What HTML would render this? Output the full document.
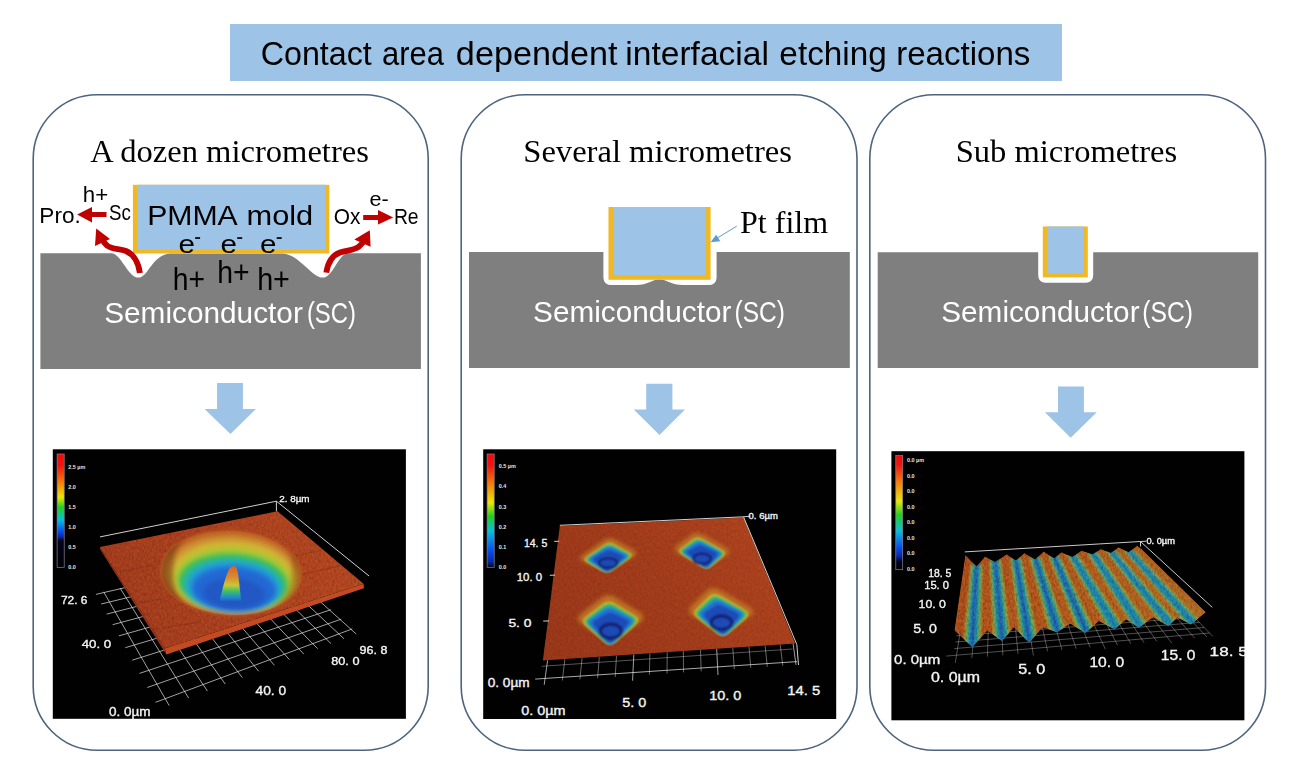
<!DOCTYPE html>
<html><head><meta charset="utf-8"><title>Contact area dependent interfacial etching reactions</title>
<style>html,body{margin:0;padding:0;background:#fff;}svg{display:block;}</style></head><body>
<svg width="1299" height="773" viewBox="0 0 1299 773">
<defs>
<filter id="b1" x="-20%" y="-20%" width="140%" height="140%"><feGaussianBlur stdDeviation="1"/></filter>
<filter id="b2" x="-20%" y="-20%" width="140%" height="140%"><feGaussianBlur stdDeviation="2"/></filter>
<filter id="b3" x="-20%" y="-20%" width="140%" height="140%"><feGaussianBlur stdDeviation="3"/></filter>
<filter id="b05" x="-20%" y="-20%" width="140%" height="140%"><feGaussianBlur stdDeviation="0.5"/></filter>
<linearGradient id="cbar1" x1="0" y1="0" x2="0" y2="1"><stop offset="0" stop-color="#f80808"/><stop offset="0.1" stop-color="#f01410"/><stop offset="0.24" stop-color="#f87408"/><stop offset="0.38" stop-color="#e8e808"/><stop offset="0.47" stop-color="#20d020"/><stop offset="0.58" stop-color="#08c0e0"/><stop offset="0.68" stop-color="#0850f0"/><stop offset="0.73" stop-color="#0828a8"/><stop offset="0.765" stop-color="#04041c"/><stop offset="1" stop-color="#000004"/></linearGradient>
<linearGradient id="cbar2" x1="0" y1="0" x2="0" y2="1"><stop offset="0" stop-color="#f80808"/><stop offset="0.1" stop-color="#f01410"/><stop offset="0.25" stop-color="#f87408"/><stop offset="0.43" stop-color="#e8e808"/><stop offset="0.55" stop-color="#20d020"/><stop offset="0.68" stop-color="#08c0e0"/><stop offset="0.85" stop-color="#0850f0"/><stop offset="0.95" stop-color="#0828a8"/><stop offset="1" stop-color="#040418"/></linearGradient>
<linearGradient id="cbar3" x1="0" y1="0" x2="0" y2="1"><stop offset="0" stop-color="#f80808"/><stop offset="0.08" stop-color="#f01410"/><stop offset="0.22" stop-color="#f87408"/><stop offset="0.4" stop-color="#e8e808"/><stop offset="0.52" stop-color="#20d020"/><stop offset="0.66" stop-color="#08c0e0"/><stop offset="0.8" stop-color="#0850f0"/><stop offset="0.88" stop-color="#0828a8"/><stop offset="0.93" stop-color="#04041c"/><stop offset="1" stop-color="#000004"/></linearGradient>
<filter id="grain" x="0" y="0" width="100%" height="100%"><feTurbulence type="fractalNoise" baseFrequency="0.55 0.3" numOctaves="2" seed="7" result="n"/><feColorMatrix in="n" type="matrix" values="0 0 0 0 0  0 0 0 0 0  0 0 0 0 0  1.8 0 0 0 -0.72"/></filter>
<filter id="grainw" x="0" y="0" width="100%" height="100%"><feTurbulence type="fractalNoise" baseFrequency="0.5 0.3" numOctaves="2" seed="23" result="n"/><feColorMatrix in="n" type="matrix" values="0 0 0 0 1  0 0 0 0 0.85  0 0 0 0 0.5  1.8 0 0 0 -0.78"/></filter>
</defs>
<rect width="1299" height="773" fill="#fff"/>
<g opacity="0.999">
<rect x="230" y="24" width="832" height="57" fill="#9DC3E6"/>
<text x="260.72" y="64.7" font-family="Liberation Sans, sans-serif" font-size="33" fill="#000" textLength="111.04" lengthAdjust="spacingAndGlyphs" >Contact</text>
<text x="382.06" y="64.7" font-family="Liberation Sans, sans-serif" font-size="33" fill="#000" textLength="61.93" lengthAdjust="spacingAndGlyphs" >area</text>
<text x="455.86" y="64.7" font-family="Liberation Sans, sans-serif" font-size="33" fill="#000" textLength="161.71" lengthAdjust="spacingAndGlyphs" >dependent</text>
<text x="625.27" y="64.7" font-family="Liberation Sans, sans-serif" font-size="33" fill="#000" textLength="143.69" lengthAdjust="spacingAndGlyphs" >interfacial</text>
<text x="779.39" y="64.7" font-family="Liberation Sans, sans-serif" font-size="33" fill="#000" textLength="107.37" lengthAdjust="spacingAndGlyphs" >etching</text>
<text x="896.20" y="64.7" font-family="Liberation Sans, sans-serif" font-size="33" fill="#000" textLength="134.21" lengthAdjust="spacingAndGlyphs" >reactions</text>
<rect x="33.2" y="94.8" width="395.0" height="655.4" rx="64" ry="64" fill="#fff" stroke="#4E647E" stroke-width="1.6"/>
<rect x="461.2" y="94.8" width="395.8" height="655.4" rx="64" ry="64" fill="#fff" stroke="#4E647E" stroke-width="1.6"/>
<rect x="869.8" y="94.8" width="395.7" height="655.4" rx="64" ry="64" fill="#fff" stroke="#4E647E" stroke-width="1.6"/>
<text x="90.30" y="161.7" font-family="Liberation Serif, serif" font-size="32.4" fill="#000" textLength="278.60" lengthAdjust="spacingAndGlyphs" >A dozen micrometres</text>
<text x="523.29" y="161.6" font-family="Liberation Serif, serif" font-size="32.4" fill="#000" textLength="268.62" lengthAdjust="spacingAndGlyphs" >Several micrometres</text>
<text x="955.69" y="161.6" font-family="Liberation Serif, serif" font-size="32.4" fill="#000" textLength="221.52" lengthAdjust="spacingAndGlyphs" >Sub micrometres</text>
<path d="M40.4 253.2 L112 253.2 C122 255 128 277.6 138.4 277.6 C148 277.6 152 255 170 253.4 L283 253.4 C300 255 312 277.6 322.6 277.6 C333 277.6 338 254 348 253.2 L420.9 253.2 L420.9 369 L40.4 369 Z" fill="#7F7F7F"/>
<rect x="132.9" y="184.8" width="196.4" height="68.7" fill="#F0B823"/>
<rect x="137.0" y="184.8" width="188.4" height="65.2" fill="#9DC3E6"/>
<path d="M469 252.1 L603.4 252.1 L603.4 277 Q603.4 285.1 611.5 285.1 L636 285.1 C648 285.1 652 279.6 659.3 279.6 C667 279.6 671 285.1 683 285.1 L708.5 285.1 Q716.6 285.1 716.6 277 L716.6 252.1 L849.8 252.1 L849.8 368 L469 368 Z" fill="#7F7F7F"/>
<rect x="608.5" y="207" width="102.1" height="72.8" fill="#F0B823"/>
<rect x="613.6" y="207" width="91.9" height="68.2" fill="#9DC3E6"/>
<path d="M877.7 252.3 L1038.2 252.3 L1038.2 274.8 Q1038.2 282.8 1046.2 282.8 L1085.2 282.8 Q1093.2 282.8 1093.2 274.8 L1093.2 252.3 L1258.2 252.3 L1258.2 368 L877.7 368 Z" fill="#7F7F7F"/>
<rect x="1042.8" y="226.5" width="45" height="50.9" fill="#F0B823"/>
<rect x="1047" y="226.5" width="36.9" height="47.1" fill="#9DC3E6"/>
<text x="147.16" y="224.6" font-family="Liberation Sans, sans-serif" font-size="27" fill="#000" textLength="90.55" lengthAdjust="spacingAndGlyphs" >PMMA</text>
<text x="246.56" y="224.6" font-family="Liberation Sans, sans-serif" font-size="27" fill="#000" textLength="66.70" lengthAdjust="spacingAndGlyphs" >mold</text>
<text x="39.37" y="223.0" font-family="Liberation Sans, sans-serif" font-size="22" fill="#000" textLength="41.37" lengthAdjust="spacingAndGlyphs" >Pro.</text>
<text x="109.05" y="220.4" font-family="Liberation Sans, sans-serif" font-size="22" fill="#000" textLength="21.85" lengthAdjust="spacingAndGlyphs" >Sc</text>
<text x="82.79" y="201.6" font-family="Liberation Sans, sans-serif" font-size="22" fill="#000" textLength="25.37" lengthAdjust="spacingAndGlyphs" >h+</text>
<text x="333.75" y="223.5" font-family="Liberation Sans, sans-serif" font-size="22" fill="#000" textLength="26.65" lengthAdjust="spacingAndGlyphs" >Ox</text>
<text x="393.92" y="223.5" font-family="Liberation Sans, sans-serif" font-size="22" fill="#000" textLength="24.68" lengthAdjust="spacingAndGlyphs" >Re</text>
<text x="369.60" y="206.1" font-family="Liberation Sans, sans-serif" font-size="20" fill="#000" textLength="19.21" lengthAdjust="spacingAndGlyphs" >e-</text>
<text x="178.48" y="253.4" font-family="Liberation Sans, sans-serif" font-size="26.5" fill="#000" textLength="16.44" lengthAdjust="spacingAndGlyphs" >e</text>
<rect x="195.1" y="237.2" width="5" height="1.7" fill="#000"/>
<text x="220.58" y="253.4" font-family="Liberation Sans, sans-serif" font-size="26.5" fill="#000" textLength="16.44" lengthAdjust="spacingAndGlyphs" >e</text>
<rect x="237.2" y="237.2" width="5" height="1.7" fill="#000"/>
<text x="260.08" y="253.4" font-family="Liberation Sans, sans-serif" font-size="26.5" fill="#000" textLength="16.44" lengthAdjust="spacingAndGlyphs" >e</text>
<rect x="276.7" y="237.2" width="5" height="1.7" fill="#000"/>
<text x="172.78" y="289.7" font-family="Liberation Sans, sans-serif" font-size="31" fill="#000" textLength="32.23" lengthAdjust="spacingAndGlyphs" >h+</text>
<text x="217.27" y="282.6" font-family="Liberation Sans, sans-serif" font-size="31" fill="#000" textLength="32.34" lengthAdjust="spacingAndGlyphs" >h+</text>
<text x="257.15" y="289.7" font-family="Liberation Sans, sans-serif" font-size="31" fill="#000" textLength="32.78" lengthAdjust="spacingAndGlyphs" >h+</text>
<text x="104.17" y="323.0" font-family="Liberation Sans, sans-serif" font-size="29" fill="#fff" textLength="198.68" lengthAdjust="spacingAndGlyphs" >Semiconductor</text>
<text x="306.88" y="323.0" font-family="Liberation Sans, sans-serif" font-size="29" fill="#fff" textLength="49.09" lengthAdjust="spacingAndGlyphs" >(SC)</text>
<text x="533.07" y="321.6" font-family="Liberation Sans, sans-serif" font-size="29" fill="#fff" textLength="198.27" lengthAdjust="spacingAndGlyphs" >Semiconductor</text>
<text x="734.56" y="321.6" font-family="Liberation Sans, sans-serif" font-size="29" fill="#fff" textLength="50.34" lengthAdjust="spacingAndGlyphs" >(SC)</text>
<text x="941.27" y="321.6" font-family="Liberation Sans, sans-serif" font-size="29" fill="#fff" textLength="198.27" lengthAdjust="spacingAndGlyphs" >Semiconductor</text>
<text x="1142.35" y="321.6" font-family="Liberation Sans, sans-serif" font-size="29" fill="#fff" textLength="50.76" lengthAdjust="spacingAndGlyphs" >(SC)</text>
<path d="M106.5 212.1 L92 212.1 L92 207 L77.1 214.6 L92 222.5 L92 217.1 L106.5 217.1 Z" fill="#C00000"/>
<path d="M363.2 214.9 L378 214.9 L378 210 L393.2 217.4 L378 224.6 L378 219.9 L363.2 219.9 Z" fill="#C00000"/>
<path d="M139.9 273 C138.5 262 133 254 126 251 C119 248.5 112 249.5 107 245.5 C104.5 243.5 103.2 241.5 102.6 239.8" fill="none" stroke="#C00000" stroke-width="5.8"/>
<path d="M96.2 228.6 L110 239 L95 246 Z" fill="#C00000"/>
<path d="M326.3 272.6 C328 262 333 255 340 252.5 C347 250 354 250.5 359 246.5 C361.5 244.5 363 242.5 363.6 241" fill="none" stroke="#C00000" stroke-width="5.8"/>
<path d="M369.8 230.3 L354.3 239.6 L370.6 246.8 Z" fill="#C00000"/>
<text x="740.10" y="232.7" font-family="Liberation Serif, serif" font-size="31" fill="#000" textLength="87.92" lengthAdjust="spacingAndGlyphs" >Pt film</text>
<line x1="736.7" y1="226.2" x2="716" y2="238.8" stroke="#5B9BD5" stroke-width="1"/>
<path d="M710.6 242.2 L716.2 234.8 L720.3 241.2 Z" fill="#5B9BD5"/>
<path d="M217.1 383.1 L242.9 383.1 L242.9 409.1 L255.9 409.1 L230.4 434 L204.6 409.1 L217.1 409.1 Z" fill="#9DC3E6"/>
<path d="M646.2 383.8 L672.4 383.8 L672.4 409.6 L685 409.6 L659.5 435 L633.8 409.6 L646.2 409.6 Z" fill="#9DC3E6"/>
<path d="M1058 386.6 L1083.9 386.6 L1083.9 412.2 L1096.8 412.2 L1070.7 437.8 L1044.8 412.2 L1058 412.2 Z" fill="#9DC3E6"/>
<clipPath id="c1"><rect x="52.8" y="449.3" width="353.1" height="269.5"/></clipPath>
<g clip-path="url(#c1)">
<rect x="52.8" y="449.3" width="353.1" height="269.5" fill="#000"/>
<rect x="57.1" y="454" width="7.1" height="113.3" fill="url(#cbar1)" stroke="#8c8494" stroke-width="0.7"/>
<text x="68.3" y="468.8" font-family="Liberation Sans, sans-serif" font-weight="bold" font-size="5.4" fill="#e8e8e8">2.5 µm</text>
<text x="68.3" y="489.2" font-family="Liberation Sans, sans-serif" font-weight="bold" font-size="5.4" fill="#e8e8e8">2.0</text>
<text x="68.3" y="508.8" font-family="Liberation Sans, sans-serif" font-weight="bold" font-size="5.4" fill="#e8e8e8">1.5</text>
<text x="68.3" y="529.2" font-family="Liberation Sans, sans-serif" font-weight="bold" font-size="5.4" fill="#e8e8e8">1.0</text>
<text x="68.3" y="549.3" font-family="Liberation Sans, sans-serif" font-weight="bold" font-size="5.4" fill="#e8e8e8">0.5</text>
<text x="68.3" y="569.2" font-family="Liberation Sans, sans-serif" font-weight="bold" font-size="5.4" fill="#e8e8e8">0.0</text>
<g stroke="#e0e0e0" stroke-width="0.85" stroke-opacity="0.85">
<line x1="103.6" y1="591.8" x2="169.2" y2="705.6"/>
<line x1="120.0" y1="588.0" x2="188.7" y2="698.1"/>
<line x1="135.7" y1="584.4" x2="207.4" y2="691.0"/>
<line x1="151.0" y1="580.9" x2="225.3" y2="684.1"/>
<line x1="165.7" y1="577.5" x2="242.3" y2="677.6"/>
<line x1="179.9" y1="574.2" x2="258.7" y2="671.3"/>
<line x1="193.7" y1="571.1" x2="274.4" y2="665.3"/>
<line x1="207.0" y1="568.0" x2="289.4" y2="659.6"/>
<line x1="219.8" y1="565.0" x2="303.8" y2="654.1"/>
<line x1="232.3" y1="562.2" x2="317.7" y2="648.7"/>
<line x1="244.4" y1="559.4" x2="331.0" y2="643.6"/>
<line x1="256.1" y1="556.7" x2="343.9" y2="638.7"/>
<line x1="267.5" y1="554.1" x2="356.2" y2="634.0"/>
<line x1="155.5" y1="702.3" x2="352.3" y2="628.9"/>
<line x1="147.3" y1="687.5" x2="341.3" y2="619.1"/>
<line x1="139.5" y1="673.4" x2="330.9" y2="609.7"/>
<line x1="132.2" y1="660.2" x2="320.9" y2="600.7"/>
<line x1="125.3" y1="647.7" x2="311.3" y2="592.1"/>
<line x1="118.8" y1="635.9" x2="302.2" y2="583.9"/>
<line x1="112.6" y1="624.7" x2="293.4" y2="576.1"/>
<line x1="106.7" y1="614.1" x2="285.0" y2="568.5"/>
<line x1="101.2" y1="604.0" x2="276.9" y2="561.3"/>
<line x1="95.9" y1="594.4" x2="269.2" y2="554.3"/>
</g>
<line x1="100.0" y1="536.9" x2="276.4" y2="501.2" stroke="#e8e8e8" stroke-width="0.9" stroke-opacity="1" />
<line x1="276.4" y1="501.2" x2="369.1" y2="576.0" stroke="#e8e8e8" stroke-width="0.9" stroke-opacity="1" />
<line x1="276.4" y1="501.2" x2="276.4" y2="511.5" stroke="#e8e8e8" stroke-width="0.9" stroke-opacity="1" />
<linearGradient id="s1g" gradientUnits="userSpaceOnUse" x1="120" y1="620" x2="330" y2="520"><stop offset="0" stop-color="#a63c1c"/><stop offset="0.5" stop-color="#ae411e"/><stop offset="1" stop-color="#b64720"/></linearGradient>
<polygon points="164.8,648.5 363.5,583.8 364.0,588.3 166.3,654.5" fill="#c44a22" />
<polygon points="100.0,546.9 164.8,648.5 166.3,654.5 100.0,548.9" fill="#96341a" />
<polygon points="100.0,546.9 277.5,511.2 363.5,583.8 164.8,648.5" fill="url(#s1g)" />
<clipPath id="s1c"><polygon points="100.0,546.9 277.5,511.2 363.5,583.8 164.8,648.5" fill="#000" /></clipPath>
<g clip-path="url(#s1c)" stroke="#842c12" stroke-width="1.2" stroke-opacity="0.5" filter="url(#b05)">
<line x1="118" y1="572" x2="168" y2="562"/><line x1="135" y1="604" x2="185" y2="594"/><line x1="296" y1="556" x2="340" y2="546"/><line x1="300" y1="575" x2="352" y2="563"/><line x1="150" y1="630" x2="200" y2="622"/>
</g>
<g clip-path="url(#s1c)"><rect x="98" y="508" width="270" height="146" filter="url(#grain)" opacity="0.2"/><rect x="98" y="508" width="270" height="146" filter="url(#grainw)" opacity="0.1"/></g>
<clipPath id="cr1"><ellipse cx="231" cy="573" rx="70" ry="42" transform="rotate(3 231 573)"/></clipPath>
<g filter="url(#b1)">
<ellipse cx="231" cy="573" rx="71" ry="43" transform="rotate(3 231 573)" fill="#b85a24"/>
</g>
<g clip-path="url(#cr1)"><g filter="url(#b2)">
<ellipse cx="231.2" cy="573.1" rx="69.8" ry="41.9" transform="rotate(3 231.2 573.1)" fill="#c06828"/>
<ellipse cx="232.0" cy="575.3" rx="66.0" ry="39.3" transform="rotate(3 232.0 575.3)" fill="#d09030"/>
<ellipse cx="233.0" cy="577.9" rx="62.0" ry="36.4" transform="rotate(3 233.0 577.9)" fill="#ccb830"/>
<ellipse cx="233.2" cy="581.1" rx="58.2" ry="32.6" transform="rotate(3 233.2 581.1)" fill="#a0c838"/>
<ellipse cx="233.0" cy="583.2" rx="55.0" ry="30.2" transform="rotate(3 233.0 583.2)" fill="#40be48"/>
<ellipse cx="233.2" cy="585.2" rx="51.2" ry="27.8" transform="rotate(3 233.2 585.2)" fill="#28b890"/>
<ellipse cx="233.5" cy="586.5" rx="47.5" ry="26.1" transform="rotate(3 233.5 586.5)" fill="#20a8c8"/>
<ellipse cx="233.8" cy="588.1" rx="44.2" ry="24.1" transform="rotate(3 233.8 588.1)" fill="#2088d8"/>
<ellipse cx="234.0" cy="589.8" rx="41.0" ry="21.8" transform="rotate(3 234.0 589.8)" fill="#2468d4"/>
<ellipse cx="234.0" cy="593.5" rx="31.0" ry="15.5" transform="rotate(3 234.0 593.5)" fill="#2458c4"/>
</g></g>
<g clip-path="url(#cr1)"><g filter="url(#b2)" opacity="0.45">
<path d="M161 575 C161 555 170 540 188 533 C176 545 172 560 173 578 C174 592 180 602 190 609 C172 603 161 592 161 575 Z" fill="#5a3008"/>
<path d="M301 575 C301 560 296 548 286 540 C292 552 293 566 291 580 C289 592 282 602 272 609 C290 603 301 592 301 575 Z" fill="#5a3008" opacity="0.6"/>
</g></g>
<linearGradient id="pk1" x1="0" y1="0" x2="0" y2="1"><stop offset="0" stop-color="#d86028"/><stop offset="0.35" stop-color="#d89030"/><stop offset="0.55" stop-color="#c8c838"/><stop offset="0.72" stop-color="#40c060"/><stop offset="0.88" stop-color="#2090c8"/><stop offset="1" stop-color="#2060c8"/></linearGradient>
<g filter="url(#b05)"><path d="M219.5 601 C222 592 225.5 575 229.5 568.5 C231.5 565.3 235 565 236.5 568 C239 573.5 239.5 590 241.5 601 Z" fill="url(#pk1)"/></g>
<text x="60.90" y="603.6" font-family="Liberation Sans, sans-serif" font-size="11.5" fill="#f4f4f4" textLength="26.61" lengthAdjust="spacingAndGlyphs" xml:space="preserve" stroke="#f4f4f4" stroke-width="0.35">72. 6</text>
<text x="81.70" y="648.0" font-family="Liberation Sans, sans-serif" font-size="11.5" fill="#f4f4f4" textLength="29.46" lengthAdjust="spacingAndGlyphs" xml:space="preserve" stroke="#f4f4f4" stroke-width="0.35">40. 0</text>
<text x="108.90" y="716.3" font-family="Liberation Sans, sans-serif" font-size="12" fill="#f4f4f4" textLength="41.70" lengthAdjust="spacingAndGlyphs" xml:space="preserve" stroke="#f4f4f4" stroke-width="0.35">0. 0µm</text>
<text x="255.50" y="695.0" font-family="Liberation Sans, sans-serif" font-size="12.3" fill="#f4f4f4" textLength="30.62" lengthAdjust="spacingAndGlyphs" xml:space="preserve" stroke="#f4f4f4" stroke-width="0.35">40. 0</text>
<text x="331.20" y="664.9" font-family="Liberation Sans, sans-serif" font-size="11.8" fill="#f4f4f4" textLength="28.33" lengthAdjust="spacingAndGlyphs" xml:space="preserve" stroke="#f4f4f4" stroke-width="0.35">80. 0</text>
<text x="359.60" y="653.6" font-family="Liberation Sans, sans-serif" font-size="11.2" fill="#f4f4f4" textLength="27.85" lengthAdjust="spacingAndGlyphs" xml:space="preserve" stroke="#f4f4f4" stroke-width="0.35">96. 8</text>
<text x="279.20" y="502.3" font-family="Liberation Sans, sans-serif" font-size="9.5" fill="#f4f4f4" textLength="30.41" lengthAdjust="spacingAndGlyphs" xml:space="preserve" stroke="#f4f4f4" stroke-width="0.35">2. 8µm</text>
</g>
<clipPath id="c2"><rect x="483.2" y="449.3" width="353.0" height="269.7"/></clipPath>
<g clip-path="url(#c2)">
<rect x="483.2" y="449.3" width="353.0" height="269.7" fill="#000"/>
<rect x="487.1" y="454" width="7.1" height="113.3" fill="url(#cbar2)" stroke="#8c8494" stroke-width="0.7"/>
<text x="498.8" y="468.0" font-family="Liberation Sans, sans-serif" font-weight="bold" font-size="5.4" fill="#e8e8e8">0.5 µm</text>
<text x="498.8" y="488.4" font-family="Liberation Sans, sans-serif" font-weight="bold" font-size="5.4" fill="#e8e8e8">0.4</text>
<text x="498.8" y="508.8" font-family="Liberation Sans, sans-serif" font-weight="bold" font-size="5.4" fill="#e8e8e8">0.3</text>
<text x="498.8" y="528.9" font-family="Liberation Sans, sans-serif" font-weight="bold" font-size="5.4" fill="#e8e8e8">0.2</text>
<text x="498.8" y="549.3" font-family="Liberation Sans, sans-serif" font-weight="bold" font-size="5.4" fill="#e8e8e8">0.1</text>
<text x="498.8" y="569.2" font-family="Liberation Sans, sans-serif" font-weight="bold" font-size="5.4" fill="#e8e8e8">0.0</text>
<g stroke="#e0e0e0" stroke-width="0.85">
<line x1="541.6" y1="666.3" x2="792.5" y2="649.0" stroke-opacity="0.45"/>
<line x1="535.2" y1="679.1" x2="797" y2="661.6" stroke-opacity="0.9"/>
<line x1="547.6" y1="660.3" x2="544.2" y2="684.8" stroke-opacity="0.85"/>
<line x1="564.9" y1="659.1" x2="562.3" y2="680.5" stroke-opacity="0.55"/>
<line x1="582.1" y1="658.0" x2="579.9" y2="679.4" stroke-opacity="0.55"/>
<line x1="599.3" y1="656.8" x2="597.6" y2="678.2" stroke-opacity="0.55"/>
<line x1="616.5" y1="655.6" x2="615.2" y2="677.0" stroke-opacity="0.55"/>
<line x1="633.8" y1="654.5" x2="632.6" y2="680.7" stroke-opacity="0.85"/>
<line x1="649.9" y1="653.4" x2="649.4" y2="674.7" stroke-opacity="0.55"/>
<line x1="667.2" y1="652.2" x2="667.0" y2="673.5" stroke-opacity="0.55"/>
<line x1="683.3" y1="651.1" x2="683.5" y2="672.4" stroke-opacity="0.55"/>
<line x1="700.5" y1="650.0" x2="701.2" y2="671.3" stroke-opacity="0.55"/>
<line x1="716.7" y1="648.9" x2="718.0" y2="675.0" stroke-opacity="0.85"/>
<line x1="732.8" y1="647.8" x2="734.3" y2="669.0" stroke-opacity="0.55"/>
<line x1="749.0" y1="646.7" x2="750.8" y2="667.9" stroke-opacity="0.55"/>
<line x1="765.1" y1="645.6" x2="767.3" y2="666.8" stroke-opacity="0.55"/>
<line x1="780.2" y1="644.6" x2="782.8" y2="665.8" stroke-opacity="0.55"/>
<line x1="793.1" y1="643.7" x2="796.0" y2="664.9" stroke-opacity="0.85"/>
</g>
<linearGradient id="s2g" gradientUnits="userSpaceOnUse" x1="560" y1="650" x2="760" y2="520"><stop offset="0" stop-color="#9c3819"/><stop offset="0.5" stop-color="#a43c1b"/><stop offset="1" stop-color="#b0431e"/></linearGradient>
<polygon points="559.8,525.9 743.5,517.6 795.3,643.6 542.9,660.5" fill="url(#s2g)" />
<clipPath id="s2c"><polygon points="559.8,525.9 743.5,517.6 795.3,643.6 542.9,660.5" fill="#000" /></clipPath>
<g clip-path="url(#s2c)">
<rect x="540" y="514" width="260" height="150" filter="url(#grain)" opacity="0.12"/><rect x="540" y="514" width="260" height="150" filter="url(#grainw)" opacity="0.05"/>
<path d="M583.1 561.3 Q577.0 558.8 583.4 554.4 L602.8 540.9 Q609.2 536.4 615.3 539.8 L633.4 550.1 Q639.5 553.5 633.1 557.0 L614.0 567.8 Q607.6 571.4 601.5 568.9 Z" fill="#c07828" filter="url(#b2)" opacity="0.9"/>
<clipPath id="pc1"><path d="M586.0 562.9 Q580.6 559.8 586.3 555.8 L603.4 544.0 Q609.1 540.0 614.4 543.0 L630.5 552.0 Q635.9 555.0 630.2 559.1 L613.2 571.3 Q607.5 575.4 602.1 572.2 Z"/></clipPath>
<g clip-path="url(#pc1)"><g filter="url(#b1)">
<path d="M587.1 562.7 Q582.0 559.7 587.4 556.0 L603.6 544.9 Q609.0 541.1 614.1 544.0 L629.4 552.4 Q634.5 555.2 629.1 559.1 L612.9 570.7 Q607.5 574.6 602.4 571.7 Z" fill="#c8b830"/>
<path d="M588.5 562.5 Q583.8 559.6 588.8 556.2 L603.9 546.1 Q609.0 542.7 613.7 545.3 L628.0 552.9 Q632.7 555.4 627.7 559.2 L612.6 570.4 Q607.5 574.2 602.8 571.3 Z" fill="#40b840"/>
<path d="M590.2 562.3 Q585.8 559.5 590.4 556.5 L604.3 547.4 Q608.9 544.4 613.2 546.7 L626.3 553.4 Q630.7 555.6 626.0 559.3 L612.2 570.2 Q607.5 573.8 603.2 570.9 Z" fill="#20a0b0"/>
<path d="M591.8 562.1 Q587.9 559.4 592.0 556.8 L604.6 549.0 Q608.8 546.4 612.8 548.3 L624.7 554.0 Q628.6 555.9 624.4 559.3 L611.8 569.7 Q607.6 573.2 603.6 570.4 Z" fill="#2070d0"/>
<path d="M594.7 561.8 Q591.5 559.2 594.9 557.3 L605.2 551.6 Q608.6 549.7 611.9 551.0 L621.7 555.0 Q625.0 556.3 621.5 559.5 L611.1 569.1 Q607.6 572.4 604.4 569.7 Z" fill="#1c4cb8"/>
<ellipse cx="608.2" cy="563.1" rx="9.1" ry="4.8" fill="none" stroke="#161c68" stroke-width="2.6" opacity="0.85"/>
</g></g>
<path d="M678.6 553.4 Q671.7 549.9 676.7 546.1 L691.5 534.7 Q696.4 530.9 703.6 535.1 L725.3 547.5 Q732.5 551.7 727.2 554.8 L711.3 564.3 Q706.0 567.4 699.1 563.9 Z" fill="#c07828" filter="url(#b2)" opacity="0.9"/>
<clipPath id="pc2"><path d="M681.6 555.4 Q675.3 551.4 679.6 548.0 L692.7 538.0 Q697.1 534.6 703.5 538.3 L722.6 549.3 Q728.9 553.0 724.5 556.7 L711.2 567.9 Q706.8 571.6 700.5 567.5 Z"/></clipPath>
<g clip-path="url(#pc2)"><g filter="url(#b1)">
<path d="M682.6 555.4 Q676.6 551.5 680.7 548.4 L693.3 539.0 Q697.4 535.8 703.5 539.3 L721.6 549.6 Q727.6 553.0 723.4 556.6 L710.8 567.3 Q706.6 570.8 700.6 567.0 Z" fill="#c8b830"/>
<path d="M684.0 555.4 Q678.3 551.6 682.2 548.8 L693.9 540.3 Q697.8 537.5 703.5 540.6 L720.3 549.9 Q725.9 553.1 722.0 556.5 L710.3 566.9 Q706.5 570.4 700.8 566.6 Z" fill="#40b840"/>
<path d="M685.5 555.4 Q680.3 551.8 683.9 549.3 L694.7 541.8 Q698.3 539.2 703.4 542.0 L718.8 550.3 Q723.9 553.1 720.4 556.5 L709.9 566.6 Q706.4 569.9 701.1 566.3 Z" fill="#20a0b0"/>
<path d="M687.1 555.5 Q682.3 552.0 685.6 549.9 L695.6 543.5 Q698.9 541.3 703.5 543.7 L717.3 550.8 Q721.9 553.2 718.8 556.4 L709.3 566.1 Q706.2 569.3 701.4 565.9 Z" fill="#2070d0"/>
<path d="M689.8 555.5 Q685.8 552.3 688.6 550.8 L697.0 546.3 Q699.8 544.8 703.5 546.5 L714.7 551.6 Q718.4 553.3 715.9 556.3 L708.4 565.4 Q706.0 568.5 701.9 565.2 Z" fill="#1c4cb8"/>
<ellipse cx="702.1" cy="558.8" rx="8.8" ry="5.1" fill="none" stroke="#161c68" stroke-width="2.7" opacity="0.85"/>
</g></g>
<path d="M581.4 623.8 Q574.2 619.0 581.0 613.7 L601.3 597.8 Q608.0 592.5 615.9 597.5 L639.6 612.2 Q647.5 617.2 640.0 622.4 L617.7 638.0 Q610.2 643.2 603.0 638.4 Z" fill="#c07828" filter="url(#b2)" opacity="0.9"/>
<clipPath id="pc3"><path d="M584.8 626.6 Q578.5 621.0 584.4 616.4 L602.4 602.4 Q608.4 597.7 615.3 602.1 L636.3 615.1 Q643.2 619.4 636.6 625.4 L616.7 643.1 Q610.1 649.0 603.7 643.4 Z"/></clipPath>
<g clip-path="url(#pc3)"><g filter="url(#b1)">
<path d="M586.1 626.5 Q580.1 621.2 585.7 616.8 L602.8 603.7 Q608.5 599.4 615.1 603.4 L635.0 615.6 Q641.6 619.7 635.3 625.3 L616.4 642.3 Q610.1 648.0 604.1 642.6 Z" fill="#c8b830"/>
<path d="M587.8 626.6 Q582.2 621.4 587.5 617.4 L603.4 605.6 Q608.7 601.6 614.9 605.3 L633.4 616.3 Q639.5 620.0 633.6 625.5 L616.0 641.9 Q610.1 647.4 604.5 642.2 Z" fill="#40b840"/>
<path d="M589.7 626.7 Q584.6 621.6 589.4 618.1 L604.1 607.6 Q609.0 604.1 614.6 607.4 L631.5 617.1 Q637.1 620.3 631.7 625.6 L615.5 641.5 Q610.1 646.8 605.0 641.7 Z" fill="#20a0b0"/>
<path d="M591.6 626.7 Q587.0 621.9 591.4 618.9 L604.8 610.0 Q609.2 607.0 614.3 609.8 L629.6 618.0 Q634.7 620.7 629.8 625.7 L615.1 640.9 Q610.2 645.9 605.5 641.1 Z" fill="#2070d0"/>
<path d="M595.0 626.8 Q591.2 622.3 594.9 620.2 L606.0 613.9 Q609.7 611.8 613.8 613.7 L626.3 619.4 Q630.5 621.3 626.4 626.0 L614.3 640.0 Q610.2 644.7 606.4 640.2 Z" fill="#1c4cb8"/>
<ellipse cx="610.8" cy="631.2" rx="10.6" ry="7.0" fill="none" stroke="#161c68" stroke-width="3.7" opacity="0.85"/>
</g></g>
<path d="M693.2 616.1 Q685.8 611.6 691.0 606.3 L706.8 590.4 Q712.1 585.2 721.1 590.4 L748.2 606.3 Q757.2 611.6 750.4 616.1 L729.7 629.7 Q722.8 634.3 715.4 629.7 Z" fill="#c07828" filter="url(#b2)" opacity="0.9"/>
<clipPath id="pc4"><path d="M696.5 618.8 Q689.9 613.5 694.6 608.8 L708.5 594.8 Q713.2 590.2 721.2 594.8 L745.1 608.8 Q753.1 613.5 747.1 618.8 L729.1 634.6 Q723.1 639.9 716.4 634.6 Z"/></clipPath>
<g clip-path="url(#pc4)"><g filter="url(#b1)">
<path d="M697.8 618.7 Q691.5 613.6 695.9 609.2 L709.3 596.1 Q713.7 591.8 721.3 596.1 L744.0 609.2 Q751.5 613.6 745.8 618.7 L728.7 633.8 Q723.0 638.9 716.7 633.8 Z" fill="#c8b830"/>
<path d="M699.4 618.7 Q693.5 613.7 697.7 609.8 L710.2 597.9 Q714.4 594.0 721.4 597.9 L742.5 609.8 Q749.5 613.7 744.2 618.7 L728.3 633.4 Q723.0 638.3 717.1 633.4 Z" fill="#40b840"/>
<path d="M701.3 618.7 Q695.9 613.9 699.7 610.4 L711.3 599.9 Q715.2 596.4 721.6 599.9 L740.8 610.4 Q747.1 613.9 742.3 618.7 L727.8 632.9 Q722.9 637.7 717.5 632.9 Z" fill="#20a0b0"/>
<path d="M703.1 618.7 Q698.2 614.1 701.8 611.1 L712.5 602.2 Q716.1 599.2 721.8 602.2 L739.1 611.1 Q744.8 614.1 740.4 618.7 L727.3 632.3 Q722.9 636.9 717.9 632.3 Z" fill="#2070d0"/>
<path d="M706.4 618.7 Q702.3 614.4 705.4 612.3 L714.5 605.9 Q717.6 603.8 722.2 605.9 L736.1 612.3 Q740.7 614.4 737.1 618.7 L726.4 631.4 Q722.8 635.7 718.7 631.4 Z" fill="#1c4cb8"/>
<ellipse cx="721.5" cy="622.7" rx="10.4" ry="6.8" fill="none" stroke="#161c68" stroke-width="3.6" opacity="0.85"/>
</g></g>
</g>
<line x1="559.8" y1="525.3" x2="743.5" y2="516.8" stroke="#e8e8e8" stroke-width="0.9" stroke-opacity="1" />
<line x1="743.5" y1="516.8" x2="750.5" y2="516.2" stroke="#e8e8e8" stroke-width="0.9" stroke-opacity="1" />
<line x1="743.5" y1="516.8" x2="796.8" y2="644.5" stroke="#e8e8e8" stroke-width="0.9" stroke-opacity="1" />
<line x1="796.8" y1="644.5" x2="798.5" y2="665.0" stroke="#e8e8e8" stroke-width="0.9" stroke-opacity="1" />
<line x1="554.2" y1="541.4" x2="559.2" y2="541.2" stroke="#e8e8e8" stroke-width="0.9" stroke-opacity="1" />
<line x1="549.8" y1="575.3" x2="555.0" y2="575.1" stroke="#e8e8e8" stroke-width="0.9" stroke-opacity="1" />
<line x1="543.2" y1="621.1" x2="549.0" y2="620.9" stroke="#e8e8e8" stroke-width="0.9" stroke-opacity="1" />
<text x="523.90" y="547.2" font-family="Liberation Sans, sans-serif" font-size="11" fill="#f4f4f4" textLength="23.41" lengthAdjust="spacingAndGlyphs" xml:space="preserve" stroke="#f4f4f4" stroke-width="0.35">14. 5</text>
<text x="516.70" y="580.8" font-family="Liberation Sans, sans-serif" font-size="11" fill="#f4f4f4" textLength="25.42" lengthAdjust="spacingAndGlyphs" xml:space="preserve" stroke="#f4f4f4" stroke-width="0.35">10. 0</text>
<text x="508.40" y="627.4" font-family="Liberation Sans, sans-serif" font-size="11.5" fill="#f4f4f4" textLength="22.97" lengthAdjust="spacingAndGlyphs" xml:space="preserve" stroke="#f4f4f4" stroke-width="0.35">5. 0</text>
<text x="487.70" y="687.0" font-family="Liberation Sans, sans-serif" font-size="12" fill="#f4f4f4" textLength="41.90" lengthAdjust="spacingAndGlyphs" xml:space="preserve" stroke="#f4f4f4" stroke-width="0.35">0. 0µm</text>
<text x="521.30" y="714.7" font-family="Liberation Sans, sans-serif" font-size="12.3" fill="#f4f4f4" textLength="44.28" lengthAdjust="spacingAndGlyphs" xml:space="preserve" stroke="#f4f4f4" stroke-width="0.35">0. 0µm</text>
<text x="622.30" y="706.8" font-family="Liberation Sans, sans-serif" font-size="12.3" fill="#f4f4f4" textLength="24.01" lengthAdjust="spacingAndGlyphs" xml:space="preserve" stroke="#f4f4f4" stroke-width="0.35">5. 0</text>
<text x="709.20" y="700.3" font-family="Liberation Sans, sans-serif" font-size="12.3" fill="#f4f4f4" textLength="32.11" lengthAdjust="spacingAndGlyphs" xml:space="preserve" stroke="#f4f4f4" stroke-width="0.35">10. 0</text>
<text x="787.30" y="694.8" font-family="Liberation Sans, sans-serif" font-size="12.3" fill="#f4f4f4" textLength="32.81" lengthAdjust="spacingAndGlyphs" xml:space="preserve" stroke="#f4f4f4" stroke-width="0.35">14. 5</text>
<text x="748.60" y="519.1" font-family="Liberation Sans, sans-serif" font-size="9" fill="#f4f4f4" textLength="29.22" lengthAdjust="spacingAndGlyphs" xml:space="preserve" stroke="#f4f4f4" stroke-width="0.35">0. 6µm</text>
</g>
<clipPath id="c3"><rect x="891.4" y="451.2" width="353.0" height="269.1"/></clipPath>
<g clip-path="url(#c3)">
<rect x="891.4" y="451.2" width="353.0" height="269.1" fill="#000"/>
<rect x="895.8" y="455.6" width="6.9" height="114.1" fill="url(#cbar3)" stroke="#8c8494" stroke-width="0.7"/>
<text x="907.1" y="462.3" font-family="Liberation Sans, sans-serif" font-weight="bold" font-size="5.4" fill="#e8e8e8">0.0 µm</text>
<text x="907.1" y="477.8" font-family="Liberation Sans, sans-serif" font-weight="bold" font-size="5.4" fill="#e8e8e8">0.0</text>
<text x="907.1" y="493.3" font-family="Liberation Sans, sans-serif" font-weight="bold" font-size="5.4" fill="#e8e8e8">0.0</text>
<text x="907.1" y="508.8" font-family="Liberation Sans, sans-serif" font-weight="bold" font-size="5.4" fill="#e8e8e8">0.0</text>
<text x="907.1" y="524.3" font-family="Liberation Sans, sans-serif" font-weight="bold" font-size="5.4" fill="#e8e8e8">0.0</text>
<text x="907.1" y="539.8" font-family="Liberation Sans, sans-serif" font-weight="bold" font-size="5.4" fill="#e8e8e8">0.0</text>
<text x="907.1" y="555.3" font-family="Liberation Sans, sans-serif" font-weight="bold" font-size="5.4" fill="#e8e8e8">0.0</text>
<text x="907.1" y="571.3" font-family="Liberation Sans, sans-serif" font-weight="bold" font-size="5.4" fill="#e8e8e8">0.0</text>
<g stroke="#d0d0d0" stroke-width="0.7" stroke-opacity="0.55">
<line x1="962.2" y1="618.9" x2="955.3" y2="662.9"/>
<line x1="975.5" y1="618.0" x2="971.8" y2="658.1"/>
<line x1="988.7" y1="617.1" x2="987.4" y2="656.7"/>
<line x1="1001.6" y1="616.2" x2="1002.8" y2="655.3"/>
<line x1="1014.3" y1="615.3" x2="1018.0" y2="653.9"/>
<line x1="1026.9" y1="614.5" x2="1033.4" y2="655.7"/>
<line x1="1039.3" y1="613.6" x2="1047.6" y2="651.3"/>
<line x1="1051.6" y1="612.8" x2="1062.0" y2="650.0"/>
<line x1="1063.6" y1="611.9" x2="1076.2" y2="648.7"/>
<line x1="1075.6" y1="611.1" x2="1090.2" y2="647.4"/>
<line x1="1087.3" y1="610.3" x2="1105.3" y2="649.1"/>
<line x1="1098.9" y1="609.5" x2="1117.5" y2="645.0"/>
<line x1="1110.4" y1="608.7" x2="1130.9" y2="643.8"/>
<line x1="1121.7" y1="608.0" x2="1144.0" y2="642.6"/>
<line x1="1132.8" y1="607.2" x2="1156.9" y2="641.4"/>
<line x1="1143.8" y1="606.4" x2="1171.8" y2="643.0"/>
<line x1="1154.7" y1="605.7" x2="1182.2" y2="639.2"/>
<line x1="1165.4" y1="604.9" x2="1194.6" y2="638.0"/>
<line x1="1176.0" y1="604.2" x2="1206.8" y2="637.0"/>
<line x1="1181.3" y1="603.9" x2="1212.8" y2="636.4"/>
<line x1="959.3" y1="619.1" x2="1181.3" y2="603.9"/>
<line x1="958.3" y1="624.4" x2="1185.5" y2="608.2"/>
<line x1="957.4" y1="630.0" x2="1189.8" y2="612.7"/>
<line x1="956.4" y1="635.8" x2="1194.4" y2="617.4"/>
<line x1="955.3" y1="642.0" x2="1199.2" y2="622.4"/>
<line x1="954.2" y1="648.6" x2="1204.2" y2="627.5"/>
<line x1="946.2" y1="656.1" x2="1209.5" y2="633.0"/>
</g>
<line x1="964.8" y1="551.9" x2="1140.5" y2="541.5" stroke="#e0e0e0" stroke-width="0.9" stroke-opacity="1" />
<line x1="1140.5" y1="541.5" x2="1146.0" y2="541.2" stroke="#e0e0e0" stroke-width="0.9" stroke-opacity="1" />
<line x1="1140.5" y1="541.5" x2="1140.5" y2="546.5" stroke="#e0e0e0" stroke-width="0.9" stroke-opacity="1" />
<line x1="1140.5" y1="541.5" x2="1212.3" y2="607.4" stroke="#e0e0e0" stroke-width="0.9" stroke-opacity="1" />
<linearGradient id="s3g" gradientUnits="userSpaceOnUse" x1="960" y1="600" x2="1200" y2="580"><stop offset="0" stop-color="#b04a18"/><stop offset="0.45" stop-color="#b4561a"/><stop offset="1" stop-color="#b66c22"/></linearGradient>
<clipPath id="s3c"><polygon points="965.4,555.0 976.6,566.6 985.0,556.6 995.0,561.9 1006.6,554.2 1015.8,560.4 1024.3,553.1 1035.1,559.6 1043.5,551.6 1054.0,558.3 1061.5,552.3 1072.3,556.9 1081.6,550.4 1092.3,554.6 1100.8,548.9 1110.8,553.1 1118.5,547.3 1128.5,552.3 1137.0,545.8 1141.0,548.5 1205.8,612.2 1205.6,612.6 1191.0,624.5 1177.5,617.5 1168.4,626.1 1153.3,617.5 1138.7,627.7 1126.3,619.6 1114.5,629.3 1098.9,621.3 1085.4,633.1 1070.4,623.7 1056.9,632.3 1042.9,627.5 1028.9,642.6 1013.8,627.5 1002.0,641.0 987.4,630.7 972.3,646.9 955.1,631.3 954.6,630.0" fill="#000" /></clipPath>
<g clip-path="url(#s3c)">
<polygon points="965.4,555.0 976.6,566.6 985.0,556.6 995.0,561.9 1006.6,554.2 1015.8,560.4 1024.3,553.1 1035.1,559.6 1043.5,551.6 1054.0,558.3 1061.5,552.3 1072.3,556.9 1081.6,550.4 1092.3,554.6 1100.8,548.9 1110.8,553.1 1118.5,547.3 1128.5,552.3 1137.0,545.8 1141.0,548.5 1205.8,612.2 1205.6,612.6 1191.0,624.5 1177.5,617.5 1168.4,626.1 1153.3,617.5 1138.7,627.7 1126.3,619.6 1114.5,629.3 1098.9,621.3 1085.4,633.1 1070.4,623.7 1056.9,632.3 1042.9,627.5 1028.9,642.6 1013.8,627.5 1002.0,641.0 987.4,630.7 972.3,646.9 955.1,631.3 954.6,630.0" fill="url(#s3g)" />
<g filter="url(#b1)">
<polygon points="970.2,564.6 983.0,564.6 981.7,642.9 972.3,649.9 962.9,642.9" fill="#b07c24" opacity="1"/>
<polygon points="971.0,564.6 982.2,564.6 980.5,642.9 972.3,649.9 964.1,642.9" fill="#a8a030" opacity="1"/>
<polygon points="971.8,564.6 981.4,564.6 979.3,642.9 972.3,649.9 965.3,642.9" fill="#58a848" opacity="1"/>
<polygon points="972.8,564.6 980.4,564.6 977.8,642.9 972.3,649.9 966.8,642.9" fill="#20a090" opacity="1"/>
<polygon points="973.8,564.6 979.4,564.6 976.3,642.9 972.3,649.9 968.3,642.9" fill="#1890b0" opacity="1"/>
<polygon points="975.1,564.6 978.1,564.6 974.5,642.9 972.3,649.9 970.1,642.9" fill="#1c6cb8" opacity="1"/>
<polygon points="976.0,564.6 977.2,564.6 973.3,642.9 972.3,649.9 971.3,642.9" fill="#1c4ca8" opacity="1"/>
<polygon points="988.6,559.9 1001.4,559.9 1011.4,637.0 1002.0,644.0 992.6,637.0" fill="#b07c24" opacity="1"/>
<polygon points="989.4,559.9 1000.6,559.9 1010.2,637.0 1002.0,644.0 993.8,637.0" fill="#a8a030" opacity="1"/>
<polygon points="990.2,559.9 999.8,559.9 1009.0,637.0 1002.0,644.0 995.0,637.0" fill="#58a848" opacity="1"/>
<polygon points="991.2,559.9 998.8,559.9 1007.5,637.0 1002.0,644.0 996.5,637.0" fill="#20a090" opacity="1"/>
<polygon points="992.2,559.9 997.8,559.9 1006.0,637.0 1002.0,644.0 998.0,637.0" fill="#1890b0" opacity="1"/>
<polygon points="993.5,559.9 996.5,559.9 1004.2,637.0 1002.0,644.0 999.8,637.0" fill="#1c6cb8" opacity="1"/>
<polygon points="994.4,559.9 995.6,559.9 1003.0,637.0 1002.0,644.0 1001.0,637.0" fill="#1c4ca8" opacity="1"/>
<polygon points="1009.4,558.4 1022.2,558.4 1038.3,638.6 1028.9,645.6 1019.5,638.6" fill="#b07c24" opacity="1"/>
<polygon points="1010.2,558.4 1021.4,558.4 1037.1,638.6 1028.9,645.6 1020.7,638.6" fill="#a8a030" opacity="1"/>
<polygon points="1011.0,558.4 1020.6,558.4 1035.9,638.6 1028.9,645.6 1021.9,638.6" fill="#58a848" opacity="1"/>
<polygon points="1012.0,558.4 1019.6,558.4 1034.4,638.6 1028.9,645.6 1023.4,638.6" fill="#20a090" opacity="1"/>
<polygon points="1013.0,558.4 1018.6,558.4 1032.9,638.6 1028.9,645.6 1024.9,638.6" fill="#1890b0" opacity="1"/>
<polygon points="1014.3,558.4 1017.3,558.4 1031.1,638.6 1028.9,645.6 1026.7,638.6" fill="#1c6cb8" opacity="1"/>
<polygon points="1015.2,558.4 1016.4,558.4 1029.9,638.6 1028.9,645.6 1027.9,638.6" fill="#1c4ca8" opacity="1"/>
<polygon points="1028.7,557.6 1041.5,557.6 1066.3,628.3 1056.9,635.3 1047.5,628.3" fill="#b07c24" opacity="1"/>
<polygon points="1029.5,557.6 1040.7,557.6 1065.1,628.3 1056.9,635.3 1048.7,628.3" fill="#a8a030" opacity="1"/>
<polygon points="1030.3,557.6 1039.9,557.6 1063.9,628.3 1056.9,635.3 1049.9,628.3" fill="#58a848" opacity="1"/>
<polygon points="1031.3,557.6 1038.9,557.6 1062.4,628.3 1056.9,635.3 1051.4,628.3" fill="#20a090" opacity="1"/>
<polygon points="1032.3,557.6 1037.9,557.6 1060.9,628.3 1056.9,635.3 1052.9,628.3" fill="#1890b0" opacity="1"/>
<polygon points="1033.6,557.6 1036.6,557.6 1059.1,628.3 1056.9,635.3 1054.7,628.3" fill="#1c6cb8" opacity="1"/>
<polygon points="1034.5,557.6 1035.7,557.6 1057.9,628.3 1056.9,635.3 1055.9,628.3" fill="#1c4ca8" opacity="1"/>
<polygon points="1047.6,556.3 1060.4,556.3 1094.8,629.1 1085.4,636.1 1076.0,629.1" fill="#b07c24" opacity="1"/>
<polygon points="1048.4,556.3 1059.6,556.3 1093.6,629.1 1085.4,636.1 1077.2,629.1" fill="#a8a030" opacity="1"/>
<polygon points="1049.2,556.3 1058.8,556.3 1092.4,629.1 1085.4,636.1 1078.4,629.1" fill="#58a848" opacity="1"/>
<polygon points="1050.2,556.3 1057.8,556.3 1090.9,629.1 1085.4,636.1 1079.9,629.1" fill="#20a090" opacity="1"/>
<polygon points="1051.2,556.3 1056.8,556.3 1089.4,629.1 1085.4,636.1 1081.4,629.1" fill="#1890b0" opacity="1"/>
<polygon points="1052.5,556.3 1055.5,556.3 1087.6,629.1 1085.4,636.1 1083.2,629.1" fill="#1c6cb8" opacity="1"/>
<polygon points="1053.4,556.3 1054.6,556.3 1086.4,629.1 1085.4,636.1 1084.4,629.1" fill="#1c4ca8" opacity="1"/>
<polygon points="1065.9,554.9 1078.7,554.9 1123.9,625.3 1114.5,632.3 1105.1,625.3" fill="#b07c24" opacity="1"/>
<polygon points="1066.7,554.9 1077.9,554.9 1122.7,625.3 1114.5,632.3 1106.3,625.3" fill="#a8a030" opacity="1"/>
<polygon points="1067.5,554.9 1077.1,554.9 1121.5,625.3 1114.5,632.3 1107.5,625.3" fill="#58a848" opacity="1"/>
<polygon points="1068.5,554.9 1076.1,554.9 1120.0,625.3 1114.5,632.3 1109.0,625.3" fill="#20a090" opacity="1"/>
<polygon points="1069.5,554.9 1075.1,554.9 1118.5,625.3 1114.5,632.3 1110.5,625.3" fill="#1890b0" opacity="1"/>
<polygon points="1071.1,554.9 1073.5,554.9 1116.3,625.3 1114.5,632.3 1112.7,625.3" fill="#1c7cb4" opacity="1"/>
<polygon points="1085.9,552.6 1098.7,552.6 1148.1,623.7 1138.7,630.7 1129.3,623.7" fill="#b07c24" opacity="1"/>
<polygon points="1086.7,552.6 1097.9,552.6 1146.9,623.7 1138.7,630.7 1130.5,623.7" fill="#a8a030" opacity="1"/>
<polygon points="1087.5,552.6 1097.1,552.6 1145.7,623.7 1138.7,630.7 1131.7,623.7" fill="#58a848" opacity="1"/>
<polygon points="1088.5,552.6 1096.1,552.6 1144.2,623.7 1138.7,630.7 1133.2,623.7" fill="#20a090" opacity="1"/>
<polygon points="1089.5,552.6 1095.1,552.6 1142.7,623.7 1138.7,630.7 1134.7,623.7" fill="#1890b0" opacity="1"/>
<polygon points="1091.1,552.6 1093.5,552.6 1140.5,623.7 1138.7,630.7 1136.9,623.7" fill="#1c7cb4" opacity="1"/>
<polygon points="1104.4,551.1 1117.2,551.1 1177.8,622.1 1168.4,629.1 1159.0,622.1" fill="#b07c24" opacity="1"/>
<polygon points="1105.2,551.1 1116.4,551.1 1176.6,622.1 1168.4,629.1 1160.2,622.1" fill="#a8a030" opacity="1"/>
<polygon points="1106.0,551.1 1115.6,551.1 1175.4,622.1 1168.4,629.1 1161.4,622.1" fill="#58a848" opacity="1"/>
<polygon points="1107.0,551.1 1114.6,551.1 1173.9,622.1 1168.4,629.1 1162.9,622.1" fill="#20a090" opacity="1"/>
<polygon points="1108.0,551.1 1113.6,551.1 1172.4,622.1 1168.4,629.1 1164.4,622.1" fill="#1890b0" opacity="1"/>
<polygon points="1109.6,551.1 1112.0,551.1 1170.2,622.1 1168.4,629.1 1166.6,622.1" fill="#1c7cb4" opacity="1"/>
<polygon points="1122.1,550.3 1134.9,550.3 1200.4,620.5 1191.0,627.5 1181.6,620.5" fill="#b07c24" opacity="1"/>
<polygon points="1122.9,550.3 1134.1,550.3 1199.2,620.5 1191.0,627.5 1182.8,620.5" fill="#a8a030" opacity="1"/>
<polygon points="1123.7,550.3 1133.3,550.3 1198.0,620.5 1191.0,627.5 1184.0,620.5" fill="#58a848" opacity="1"/>
<polygon points="1124.7,550.3 1132.3,550.3 1196.5,620.5 1191.0,627.5 1185.5,620.5" fill="#20a090" opacity="1"/>
<polygon points="1125.7,550.3 1131.3,550.3 1195.0,620.5 1191.0,627.5 1187.0,620.5" fill="#1890b0" opacity="1"/>
<polygon points="1127.3,550.3 1129.7,550.3 1192.8,620.5 1191.0,627.5 1189.2,620.5" fill="#1c7cb4" opacity="1"/>
</g>
<g filter="url(#b1)" opacity="0.5">
<polygon points="964.2,555.0 966.6,555.0 958.1,631.3 952.1,631.3" fill="#c06020" />
<polygon points="983.8,556.6 986.2,556.6 990.4,630.7 984.4,630.7" fill="#c06020" />
<polygon points="1005.4,554.2 1007.8,554.2 1016.8,627.5 1010.8,627.5" fill="#c06020" />
<polygon points="1023.1,553.1 1025.5,553.1 1045.9,627.5 1039.9,627.5" fill="#c06020" />
<polygon points="1042.3,551.6 1044.7,551.6 1073.4,623.7 1067.4,623.7" fill="#c06020" />
<polygon points="1060.3,552.3 1062.7,552.3 1101.9,621.3 1095.9,621.3" fill="#c06020" />
<polygon points="1080.4,550.4 1082.8,550.4 1129.3,619.6 1123.3,619.6" fill="#c06020" />
<polygon points="1099.6,548.9 1102.0,548.9 1156.3,617.5 1150.3,617.5" fill="#c06020" />
<polygon points="1117.3,547.3 1119.7,547.3 1180.5,617.5 1174.5,617.5" fill="#c06020" />
<polygon points="1135.8,545.8 1138.2,545.8 1208.6,612.6 1202.6,612.6" fill="#c06020" />
</g>
<rect x="950" y="540" width="262" height="112" filter="url(#grain)" opacity="0.32"/>
<rect x="950" y="540" width="262" height="112" filter="url(#grainw)" opacity="0.16"/>
</g>
<text x="928.30" y="577.3" font-family="Liberation Sans, sans-serif" font-size="10.2" fill="#f4f4f4" textLength="23.06" lengthAdjust="spacingAndGlyphs" xml:space="preserve" stroke="#f4f4f4" stroke-width="0.35">18. 5</text>
<text x="924.20" y="588.6" font-family="Liberation Sans, sans-serif" font-size="10.8" fill="#f4f4f4" textLength="24.80" lengthAdjust="spacingAndGlyphs" xml:space="preserve" stroke="#f4f4f4" stroke-width="0.35">15. 0</text>
<text x="918.60" y="608.3" font-family="Liberation Sans, sans-serif" font-size="11.6" fill="#f4f4f4" textLength="27.38" lengthAdjust="spacingAndGlyphs" xml:space="preserve" stroke="#f4f4f4" stroke-width="0.35">10. 0</text>
<text x="913.20" y="633.1" font-family="Liberation Sans, sans-serif" font-size="13" fill="#f4f4f4" textLength="23.65" lengthAdjust="spacingAndGlyphs" xml:space="preserve" stroke="#f4f4f4" stroke-width="0.35">5. 0</text>
<text x="894.10" y="664.2" font-family="Liberation Sans, sans-serif" font-size="13" fill="#f4f4f4" textLength="46.16" lengthAdjust="spacingAndGlyphs" xml:space="preserve" stroke="#f4f4f4" stroke-width="0.35">0. 0µm</text>
<text x="931.00" y="681.8" font-family="Liberation Sans, sans-serif" font-size="14.3" fill="#f4f4f4" textLength="49.01" lengthAdjust="spacingAndGlyphs" xml:space="preserve" stroke="#f4f4f4" stroke-width="0.35">0. 0µm</text>
<text x="1018.30" y="673.5" font-family="Liberation Sans, sans-serif" font-size="13.8" fill="#f4f4f4" textLength="27.02" lengthAdjust="spacingAndGlyphs" xml:space="preserve" stroke="#f4f4f4" stroke-width="0.35">5. 0</text>
<text x="1089.41" y="667.2" font-family="Liberation Sans, sans-serif" font-size="14.3" fill="#f4f4f4" textLength="34.74" lengthAdjust="spacingAndGlyphs" xml:space="preserve" stroke="#f4f4f4" stroke-width="0.35">10. 0</text>
<text x="1160.89" y="660.4" font-family="Liberation Sans, sans-serif" font-size="14" fill="#f4f4f4" textLength="34.57" lengthAdjust="spacingAndGlyphs" xml:space="preserve" stroke="#f4f4f4" stroke-width="0.35">15. 0</text>
<text x="1209.64" y="655.5" font-family="Liberation Sans, sans-serif" font-size="13.6" fill="#f4f4f4" textLength="38.06" lengthAdjust="spacingAndGlyphs" xml:space="preserve" stroke="#f4f4f4" stroke-width="0.35">18. 5</text>
<text x="1146.40" y="544.0" font-family="Liberation Sans, sans-serif" font-size="8.3" fill="#f4f4f4" textLength="28.50" lengthAdjust="spacingAndGlyphs" xml:space="preserve" stroke="#f4f4f4" stroke-width="0.35">0. 0µm</text>
</g>
</g>
</svg></body></html>
